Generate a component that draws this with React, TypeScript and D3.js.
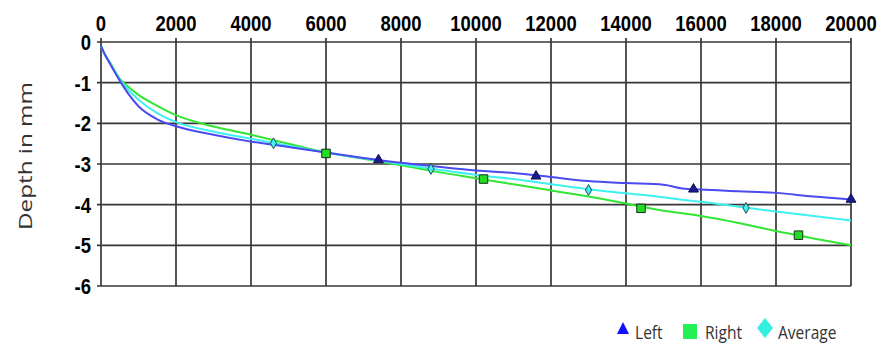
import React from "react";
import * as d3 from "d3";

// cycles (x) and depth in mm (y)
const cycles = [0, 100, 250, 500, 750, 1000, 1500, 2000, 3000, 4000, 5000, 6000, 7000, 8000, 9000, 10000, 11000, 12000, 13000, 14000, 15000, 15500, 16000, 17000, 18000, 19000, 20000];
const leftDepth = [-0.1, -0.3, -0.55, -0.95, -1.3, -1.58, -1.9, -2.07, -2.28, -2.45, -2.58, -2.72, -2.85, -2.97, -3.07, -3.16, -3.22, -3.32, -3.42, -3.47, -3.51, -3.6, -3.63, -3.67, -3.71, -3.8, -3.87];
const rightDepth = [-0.1, -0.3, -0.52, -0.9, -1.12, -1.3, -1.57, -1.8, -2.08, -2.28, -2.5, -2.72, -2.87, -3.03, -3.2, -3.35, -3.5, -3.65, -3.8, -3.97, -4.15, -4.21, -4.28, -4.45, -4.65, -4.83, -5.0];
const avgDepth = [-0.1, -0.3, -0.53, -0.92, -1.2, -1.42, -1.75, -1.97, -2.2, -2.38, -2.55, -2.72, -2.86, -3.0, -3.14, -3.27, -3.37, -3.5, -3.62, -3.72, -3.82, -3.88, -3.93, -4.05, -4.17, -4.28, -4.39];

const leftMarkers: [number, number][] = [[7400, -2.9], [11600, -3.3], [15800, -3.62], [20000, -3.87]];
const rightMarkers: [number, number][] = [[6000, -2.74], [10200, -3.37], [14400, -4.09], [18600, -4.75]];
const avgMarkers: [number, number][] = [[4600, -2.49], [8800, -3.12], [13000, -3.64], [17200, -4.08]];

const xTicks = [0, 2000, 4000, 6000, 8000, 10000, 12000, 14000, 16000, 18000, 20000];
const yTicks = [0, -1, -2, -3, -4, -5, -6];

const W = 883;
const H = 347;

export default function App() {
  const x = d3.scaleLinear().domain([0, 20000]).range([101, 851]);
  const y = d3.scaleLinear().domain([0, -6]).range([42, 286]);

  const line = (vals: number[]) =>
    d3
      .line<number>()
      .x((_, i) => x(cycles[i]))
      .y((d) => y(d))
      .curve(d3.curveMonotoneX)(vals) || "";

  const tri = d3.symbol().type(d3.symbolTriangle).size(42)() || "";
  const sq = d3.symbol().type(d3.symbolSquare).size(72)() || "";
  const dia = d3.symbol().type(d3.symbolDiamond).size(34)() || "";

  const tickFont = "'Liberation Sans', Arial, sans-serif";
  const labelFont = "'Open Sans', 'Noto Sans', sans-serif";

  return (
    <svg
      width={W}
      height={H}
      viewBox={`0 0 ${W} ${H}`}
      style={{ position: "absolute", left: 0, top: 0, background: "#fff" }}
    >
      {/* grid */}
      <g stroke="#222" strokeWidth={1.7} opacity={0.9}>
        {xTicks.map((t) => (
          <line key={`v-${t}`} x1={x(t)} x2={x(t)} y1={38} y2={y(-6)} />
        ))}
        {yTicks.map((t) => (
          <line key={`h-${t}`} x1={97} x2={x(20000)} y1={y(t)} y2={y(t)} />
        ))}
      </g>

      {/* tick labels */}
      <g fontFamily={tickFont} fontWeight="bold" fontSize={22} fill="#000">
        {xTicks.map((t) => (
          <text key={`xl-${t}`} textAnchor="middle" transform={`translate(${x(t)},31) scale(0.84,1)`}>
            {t}
          </text>
        ))}
        {yTicks.map((t) => (
          <text key={`yl-${t}`} textAnchor="end" transform={`translate(91,${y(t) + 8}) scale(0.84,1)`}>
            {t}
          </text>
        ))}
      </g>

      <text
        transform="translate(32,156) rotate(-90)"
        textAnchor="middle"
        fontFamily={labelFont}
        fontSize={19}
        fill="#333"
        textLength={148}
        lengthAdjust="spacingAndGlyphs"
      >
        Depth in mm
      </text>

      {/* series */}
      <g fill="none" strokeWidth={2} strokeLinejoin="round">
        <path d={line(rightDepth)} stroke="#33e633" />
        <path d={line(avgDepth)} stroke="#3ff0f0" />
        <path d={line(leftDepth)} stroke="#4a4af0" />
      </g>

      <g stroke="#1a2a1a" strokeWidth={1}>
        {rightMarkers.map(([cx, cy]) => (
          <path key={`r-${cx}`} d={sq} transform={`translate(${x(cx)},${y(cy)})`} fill="#22dd22" />
        ))}
        {avgMarkers.map(([cx, cy]) => (
          <path key={`a-${cx}`} d={dia} transform={`translate(${x(cx)},${y(cy)})`} fill="#40f0f0" stroke="#1f5050" />
        ))}
        {leftMarkers.map(([cx, cy]) => (
          <path key={`l-${cx}`} d={tri} transform={`translate(${x(cx)},${y(cy)})`} fill="#1a1a90" stroke="#101050" />
        ))}
      </g>

      {/* legend */}
      <g fontFamily={labelFont} fontSize={19} fill="#333">
        <path d="M623,322 L629,334 L617,334 Z" fill="#1010ff" />
        <text transform="translate(635,339) scale(0.82,1)">Left</text>
        <rect x={683} y={324} width={14} height={15} fill="#22f055" />
        <text transform="translate(705,339) scale(0.82,1)">Right</text>
        <path d="M765,318 L773,328 L765,338 L757,328 Z" fill="#33f0e0" />
        <text transform="translate(778,339) scale(0.82,1)">Average</text>
      </g>
    </svg>
  );
}
